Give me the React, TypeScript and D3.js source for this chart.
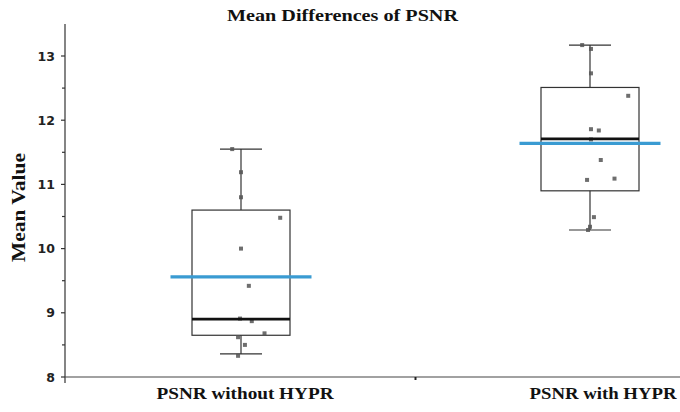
import React from "react";
import * as d3 from "d3";

const categories = ["PSNR without HYPR", "PSNR with HYPR"];
const whiskerLow = [8.36, 10.29];
const q1 = [8.65, 10.9];
const medians = [8.9, 11.71];
const q3 = [10.6, 12.51];
const whiskerHigh = [11.55, 13.17];
const means = [9.56, 11.64];

const pointsWithout = [11.55, 11.19, 10.8, 10.48, 10.0, 9.42, 8.91, 8.87, 8.68, 8.62, 8.5, 8.33];
const jitterWithout = [-0.09, 0, 0, 0.4, 0, 0.08, -0.01, 0.11, 0.24, -0.03, 0.04, -0.03];
const pointsWith = [13.17, 13.11, 12.73, 12.38, 11.86, 11.84, 11.7, 11.38, 11.09, 11.07, 10.49, 10.34, 10.29];
const jitterWith = [-0.08, 0.01, 0.01, 0.39, 0.01, 0.09, 0.01, 0.11, 0.25, -0.03, 0.04, 0, -0.02];

const yTicks = [8, 9, 10, 11, 12, 13];
const yMinorTicks = [8.5, 9.5, 10.5, 11.5, 12.5];

const W = 680;
const H = 412;

export default function App() {
  const y = d3.scaleLinear().domain([8, 13]).range([377, 56]);
  const x = d3.scalePoint<string>().domain(categories).range([241, 590]);
  const boxW = 98;
  const capW = 42;
  const meanW = 141;
  const axisX = 65;
  const axisY = y(8);
  const serif = "'Liberation Serif', 'Times New Roman', serif";
  const pointSets = [pointsWithout, pointsWith];
  const jitterSets = [jitterWithout, jitterWith];
  const labelOffsets = [4, 13];
  const labelLengths = [177, 147];

  return (
    <svg width={W} height={H} style={{ position: "absolute", left: 0, top: 0, background: "#fff" }}>
      <rect width={W} height={H} fill="#fff" />
      <text x={342.5} y={21} textAnchor="middle" fontFamily={serif} fontWeight="bold" fontSize={17} fill="#111"
        textLength={231} lengthAdjust="spacingAndGlyphs">
        Mean Differences of PSNR
      </text>

      {/* Y axis */}
      <line x1={axisX} x2={axisX} y1={24} y2={axisY + 6} stroke="#333" strokeWidth={1.2} />
      {yTicks.map((t) => (
        <g key={t}>
          <line x1={axisX - 4} x2={axisX} y1={y(t)} y2={y(t)} stroke="#333" strokeWidth={1.2} />
          <text x={axisX - 10} y={y(t)} dy="0.36em" textAnchor="end" fontFamily="'DejaVu Sans', sans-serif" fontWeight="bold" fontSize={12.5} fill="#222">
            {t}
          </text>
        </g>
      ))}
      {yMinorTicks.map((t) => (
        <line key={t} x1={axisX - 3} x2={axisX} y1={y(t)} y2={y(t)} stroke="#333" strokeWidth={1.2} />
      ))}
      <text
        transform={`translate(25, 207.5) rotate(-90)`}
        textAnchor="middle"
        fontFamily={serif}
        fontWeight="bold"
        fontSize={19}
        fill="#111"
        textLength={109}
        lengthAdjust="spacingAndGlyphs"
      >
        Mean Value
      </text>

      {/* X axis */}
      <line x1={axisX} x2={W} y1={axisY} y2={axisY} stroke="#444" strokeWidth={1.2} />
      <line x1={(x(categories[0])! + x(categories[1])!) / 2} x2={(x(categories[0])! + x(categories[1])!) / 2} y1={axisY} y2={axisY + 3} stroke="#222" strokeWidth={2} />
      {categories.map((c, i) => (
        <text key={c} x={x(c)! + labelOffsets[i]} y={axisY + 22} textAnchor="middle" fontFamily={serif} fontWeight="bold" fontSize={16.5} fill="#111"
          textLength={labelLengths[i]} lengthAdjust="spacingAndGlyphs">
          {c}
        </text>
      ))}

      {categories.map((c, i) => {
        const cx = x(c)!;
        return (
          <g key={c}>
            <line x1={cx} x2={cx} y1={y(q3[i])} y2={y(whiskerHigh[i])} stroke="#333" strokeWidth={1.2} />
            <line x1={cx} x2={cx} y1={y(q1[i])} y2={y(whiskerLow[i])} stroke="#333" strokeWidth={1.2} />
            <line x1={cx - capW / 2} x2={cx + capW / 2} y1={y(whiskerHigh[i])} y2={y(whiskerHigh[i])} stroke="#333" strokeWidth={1.2} />
            <line x1={cx - capW / 2} x2={cx + capW / 2} y1={y(whiskerLow[i])} y2={y(whiskerLow[i])} stroke="#333" strokeWidth={1.2} />
            <rect x={cx - boxW / 2} y={y(q3[i])} width={boxW} height={y(q1[i]) - y(q3[i])} fill="none" stroke="#333" strokeWidth={1.2} />
            {pointSets[i].map((v, k) => (
              <rect
                key={k}
                x={cx + jitterSets[i][k] * boxW - 2}
                y={y(v) - 2}
                width={4}
                height={4}
                fill="#555"
                opacity={0.85}
              />
            ))}
            <line x1={cx - boxW / 2} x2={cx + boxW / 2} y1={y(medians[i])} y2={y(medians[i])} stroke="#111" strokeWidth={2.8} />
            <line x1={cx - meanW / 2} x2={cx + meanW / 2} y1={y(means[i])} y2={y(means[i])} stroke="#3a9bd2" strokeWidth={3.2} />
          </g>
        );
      })}
    </svg>
  );
}
